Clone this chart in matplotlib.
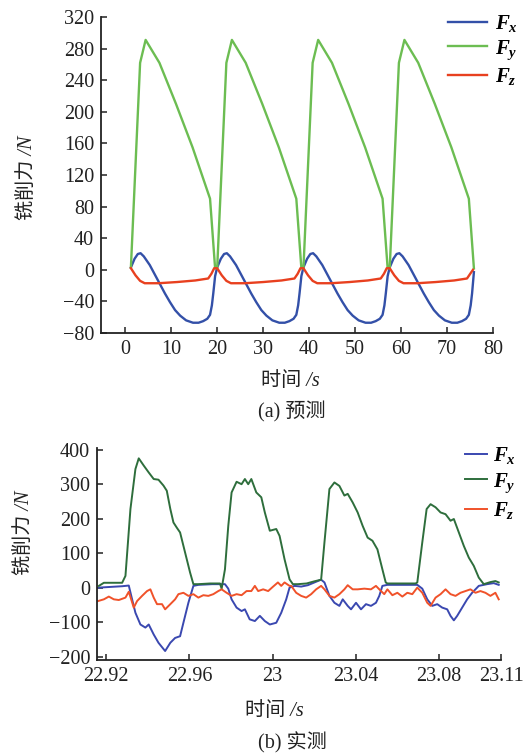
import matplotlib
matplotlib.use("Agg")
import matplotlib.pyplot as plt

plt.rcParams['font.family'] = ['Liberation Serif', 'Noto Sans CJK SC']
plt.rcParams['mathtext.fontset'] = 'custom'
plt.rcParams['mathtext.it'] = 'Liberation Serif:italic:bold'
plt.rcParams['mathtext.rm'] = 'Liberation Serif'

# ---------------- (a) predicted ----------------
fy_a_t = [1.3, 3.3, 4.5, 7.5, 11.1, 14.7, 18.5, 19.6,
          20.05, 22.05, 23.25, 26.25, 29.85, 33.45, 37.25, 38.35,
          38.8, 40.8, 42.0, 45.0, 48.6, 52.2, 56.0, 57.1,
          57.55, 59.55, 60.75, 63.75, 67.35, 70.95, 74.75, 75.85]
fy_a = [3, 262, 291, 262, 210, 155, 90, 2,
        2, 262, 291, 262, 210, 155, 90, 2,
        2, 262, 291, 262, 210, 155, 90, 2,
        2, 262, 291, 262, 210, 155, 90, 2]

fx_a_t = [1.3, 2.1, 2.8, 3.4, 4.1, 5.4, 6.5, 7.6, 8.7, 9.8, 10.9, 12.0, 13.3, 14.8, 16.0, 17.0, 17.9, 18.5, 18.9, 19.2, 19.6,
          20.05, 20.85, 21.55, 22.15, 22.85, 24.15, 25.25, 26.35, 27.45, 28.55, 29.65, 30.75, 32.05, 33.55, 34.75, 35.75, 36.65, 37.25, 37.65, 37.95, 38.35,
          38.8, 39.6, 40.3, 40.9, 41.6, 42.9, 44.0, 45.1, 46.2, 47.3, 48.4, 49.5, 50.8, 52.3, 53.5, 54.5, 55.4, 56.0, 56.4, 56.7, 57.1,
          57.55, 58.35, 59.05, 59.65, 60.35, 61.65, 62.75, 63.85, 64.95, 66.05, 67.15, 68.25, 69.55, 71.05, 72.25, 73.25, 74.15, 74.75, 75.15, 75.45, 75.85]
fx_a = [3, 14, 20, 21, 17, 6, -6, -18, -30, -41, -51, -58, -64, -67, -67, -65, -62, -57, -45, -30, -8,
        3, 14, 20, 21, 17, 6, -6, -18, -30, -41, -51, -58, -64, -67, -67, -65, -62, -57, -45, -30, -8,
        3, 14, 20, 21, 17, 6, -6, -18, -30, -41, -51, -58, -64, -67, -67, -65, -62, -57, -45, -30, -8,
        3, 14, 20, 21, 17, 6, -6, -18, -30, -41, -51, -58, -64, -67, -67, -65, -62, -57, -45, -30, -3]

fz_a_t = [1.3, 2.3, 3.3, 4.3, 7.3, 11.3, 15.3, 18.1, 18.8, 19.4,
          20.05, 21.05, 22.05, 23.05, 26.05, 30.05, 34.05, 36.85, 37.55, 38.15,
          38.8, 39.8, 40.8, 41.8, 44.8, 48.8, 52.8, 55.6, 56.3, 56.9,
          57.55, 58.55, 59.55, 60.55, 63.55, 67.55, 71.55, 74.35, 75.05, 75.65]
fz_a = [2, -7, -14, -17, -17, -15.5, -13.5, -11, -5, 2,
        2, -7, -14, -17, -17, -15.5, -13.5, -11, -5, 2,
        2, -7, -14, -17, -17, -15.5, -13.5, -11, -5, 2,
        2, -7, -14, -17, -17, -15.5, -13.5, -11, -5, 0]

xticks_a = [0, 10, 20, 30, 40, 50, 60, 70, 80]
yticks_a = [-80, -40, 0, 40, 80, 120, 160, 200, 240, 280, 320]

# ---------------- (b) measured ----------------
fy_b_t = [22.9164, 22.9188, 22.9276, 22.9292, 22.9316, 22.9340, 22.9356, 22.9380, 22.9404, 22.9428,
          22.9451, 22.9475, 22.9491, 22.9508, 22.9523, 22.9539, 22.9555, 22.9579, 22.9603, 22.9619,
          22.9643, 22.9700, 22.9747, 22.9755, 22.9771, 22.9787, 22.9803, 22.9827, 22.9851, 22.9867,
          22.9883, 22.9898, 22.9922, 22.9946, 22.9963, 22.9987, 23.0018, 23.0034, 23.0058, 23.0082,
          23.0098, 23.0122, 23.0164, 23.0200, 23.0234, 23.0250, 23.0274, 23.0298, 23.0322, 23.0346,
          23.0362, 23.0386, 23.0410, 23.0434, 23.0458, 23.0481, 23.0505, 23.0529, 23.0545, 23.0553,
          23.0620, 23.0689, 23.0697, 23.0721, 23.0742, 23.0761, 23.0785, 23.0809, 23.0833, 23.0857,
          23.0873, 23.0897, 23.0921, 23.0945, 23.0969, 23.0993, 23.1017, 23.1049, 23.1073, 23.1089]
fy_b = [5, 14, 14, 34, 228, 344, 375, 354, 334, 315,
        313, 296, 281, 228, 189, 174, 160, 102, 44, 10,
        10, 12, 12, -3, 53, 179, 276, 307, 300, 315,
        300, 315, 276, 262, 218, 165, 170, 150, 82, 24,
        10, 10, 12, 18, 23, 131, 286, 305, 295, 267,
        272, 247, 218, 179, 145, 136, 111, 53, 15, 12,
        12, 12, 15, 131, 228, 242, 233, 218, 213, 194,
        199, 160, 121, 87, 63, 29, 10, 16, 19, 15]

fx_b_t = [22.9164, 22.9276, 22.9308, 22.9324, 22.9340, 22.9364, 22.9388, 22.9404, 22.9428, 22.9451,
          22.9483, 22.9508, 22.9531, 22.9555, 22.9571, 22.9595, 22.9619, 22.9643, 22.9710, 22.9771,
          22.9787, 22.9803, 22.9827, 22.9851, 22.9867, 22.9890, 22.9915, 22.9939, 22.9963, 22.9987,
          23.0018, 23.0042, 23.0066, 23.0082, 23.0106, 23.0138, 23.0170, 23.0202, 23.0234, 23.0250,
          23.0274, 23.0298, 23.0322, 23.0338, 23.0362, 23.0378, 23.0402, 23.0426, 23.0450, 23.0474,
          23.0498, 23.0514, 23.0529, 23.0553, 23.0697, 23.0721, 23.0745, 23.0769, 23.0793, 23.0817,
          23.0841, 23.0857, 23.0873, 23.0889, 23.0913, 23.0937, 23.0961, 23.0993, 23.1033, 23.1065, 23.1089]
fx_b = [0, 4, 6, -34, -73, -107, -116, -107, -136, -160,
        -184, -160, -146, -141, -102, -44, 5, 8, 10, 10,
        -3, -34, -58, -68, -63, -92, -97, -82, -97, -107,
        -102, -73, -34, 0, 5, 3, 7, 15, 23, 15,
        -24, -44, -53, -34, -53, -63, -44, -63, -48, -53,
        -44, -24, 5, 8, 8, -3, -34, -53, -48, -58,
        -63, -82, -95, -82, -58, -34, -15, 5, 10, 13, 8]

fz_b_t = [22.9160, 22.9188, 22.9212, 22.9236, 22.9260, 22.9292, 22.9308, 22.9332, 22.9348, 22.9372,
          22.9396, 22.9412, 22.9428, 22.9444, 22.9468, 22.9483, 22.9508, 22.9531, 22.9547, 22.9571,
          22.9595, 22.9619, 22.9643, 22.9667, 22.9691, 22.9715, 22.9739, 22.9755, 22.9779, 22.9803,
          22.9827, 22.9851, 22.9875, 22.9898, 22.9915, 22.9931, 22.9955, 22.9979, 23.0003, 23.0026,
          23.0042, 23.0058, 23.0082, 23.0090, 23.0114, 23.0138, 23.0162, 23.0186, 23.0210, 23.0234,
          23.0250, 23.0274, 23.0298, 23.0322, 23.0346, 23.0362, 23.0386, 23.0410, 23.0442, 23.0474,
          23.0498, 23.0514, 23.0538, 23.0553, 23.0577, 23.0601, 23.0625, 23.0649, 23.0673, 23.0697,
          23.0721, 23.0745, 23.0761, 23.0785, 23.0809, 23.0833, 23.0857, 23.0881, 23.0905, 23.0929,
          23.0953, 23.0977, 23.1001, 23.1025, 23.1049, 23.1073, 23.1089]
fz_b = [-39, -34, -26, -34, -36, -29, -12, -58, -39, -24,
        -10, -5, -29, -48, -48, -63, -48, -34, -19, -15,
        -24, -19, -29, -22, -24, -19, -10, -5, -15, -24,
        -19, -22, -10, -10, 5, -10, -5, -10, 3, 15,
        5, 15, 5, 5, -15, -24, -29, -19, -5, 5,
        -5, -24, -29, -19, -5, 7, -5, -5, -3, -5,
        5, -5, -19, -5, -22, -15, -26, -15, -19, 0,
        -15, -44, -53, -29, -19, -5, -19, -24, -15, -10,
        -5, -15, -10, -15, -24, -15, -34]

xticks_b = [22.92, 22.96, 23.00, 23.04, 23.08, 23.11]
xticklabels_b = ['22.92', '22.96', '23', '23.04', '23.08', '23.11']
yticks_b = [-200, -100, 0, 100, 200, 300, 400]

labels = ['$F_x$', '$F_y$', '$F_z$']

W, H = 531, 756
fig = plt.figure(figsize=(W / 100, H / 100), dpi=100)


def px_axes(l, r, t, b):
    return fig.add_axes([l / W, 1 - b / H, (r - l) / W, (b - t) / H])


def style(ax):
    ax.spines['top'].set_visible(False)
    ax.spines['right'].set_visible(False)
    for s in ('left', 'bottom'):
        ax.spines[s].set_linewidth(1.3)
        ax.spines[s].set_color('#222222')
    ax.tick_params(direction='in', length=4, width=1.1, labelsize=14.5, pad=5, colors='#222222')


# ---- top axes ----
ax1 = px_axes(101, 493, 17, 333)
l1, = ax1.plot(fx_a_t, fx_a, color='#3350a8', lw=1.7)
l2, = ax1.plot(fy_a_t, fy_a, color='#6cbd52', lw=1.7)
l3, = ax1.plot(fz_a_t, fz_a, color='#e8401f', lw=1.7)
ax1.set_xlim(-5.2, 80)
ax1.set_ylim(-80, 320)
ax1.set_xticks(xticks_a)
ax1.set_yticks(yticks_a)
style(ax1)
ax1.legend([l1, l2, l3], labels, loc='upper left', bbox_to_anchor=(448 / W, 1 - 13 / H),
           bbox_transform=fig.transFigure, frameon=False, fontsize=15, handlelength=1.85,
           handletextpad=0.4, labelspacing=0.2, borderpad=0, borderaxespad=0)

# ---- bottom axes ----
ax2 = px_axes(97, 501, 448, 660)
m1, = ax2.plot(fx_b_t, fx_b, color='#3a48b0', lw=1.4)
m2, = ax2.plot(fy_b_t, fy_b, color='#2e6e3c', lw=1.4)
m3, = ax2.plot(fz_b_t, fz_b, color='#f0522a', lw=1.4)
ax2.set_xlim(22.9155, 23.11)
ax2.set_ylim(-210, 405)
ax2.set_xticks(xticks_b)
ax2.set_xticklabels(xticklabels_b)
ax2.set_yticks(yticks_b)
style(ax2)
ax2.legend([m1, m2, m3], labels, loc='upper left', bbox_to_anchor=(465 / W, 1 - 445 / H),
           bbox_transform=fig.transFigure, frameon=False, fontsize=15, handlelength=1.05,
           handletextpad=0.3, labelspacing=0.25, borderpad=0, borderaxespad=0)

# ---- texts ----
tkw = dict(fontsize=14.5, color='#222222', ha='center', va='center')
fig.text(27 / W, 1 - 178 / H, '铣削力 /N', rotation=90, style='italic', **tkw)
fig.text(290 / W, 1 - 381 / H, '时间 /s', style='italic', **tkw)
fig.text(292 / W, 1 - 412 / H, '(a) 预测', **tkw)
fig.text(24 / W, 1 - 533 / H, '铣削力 /N', rotation=90, style='italic', **tkw)
fig.text(274 / W, 1 - 712 / H, '时间 /s', style='italic', **tkw)
fig.text(292 / W, 1 - 743 / H, '(b) 实测', **tkw)

fig.savefig('out.png', dpi=100)
